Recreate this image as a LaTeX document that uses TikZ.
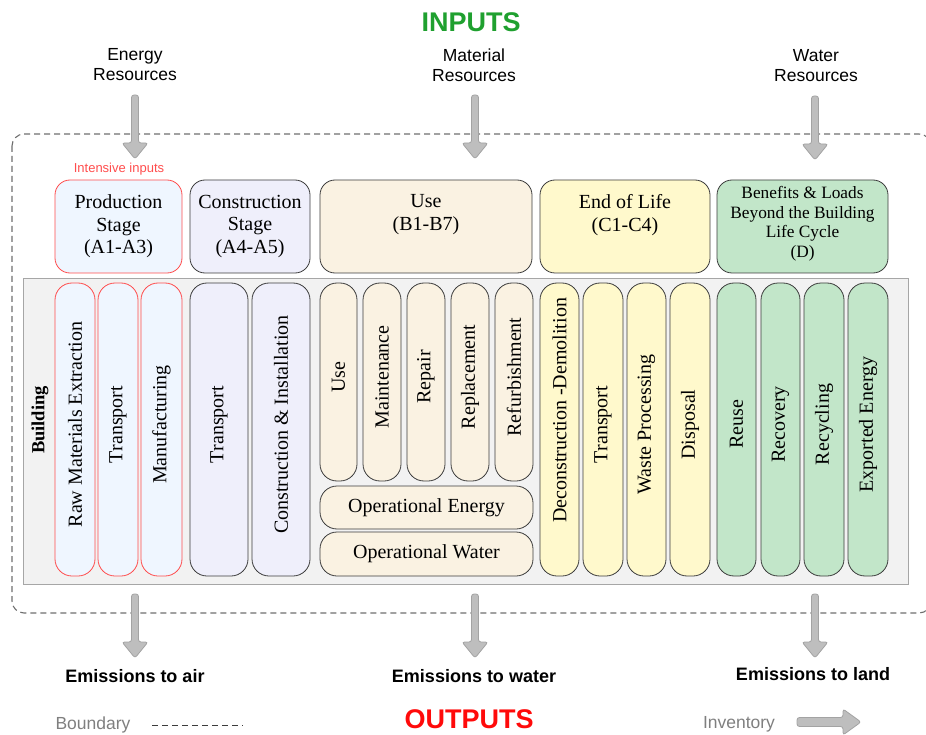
\documentclass[tikz,border=0pt]{standalone}
\usepackage{fontspec}
\setmainfont{Liberation Serif}
\setsansfont{Liberation Sans}

% palette
\definecolor{inputgreen}{HTML}{1FA02F}
\definecolor{outputred}{HTML}{FF0A0A}
\definecolor{prodfill}{HTML}{EFF6FF}
\definecolor{prodedge}{HTML}{FF4D4D}
\definecolor{consfill}{HTML}{EFEFFB}
\definecolor{usefill}{HTML}{FAF2E2}
\definecolor{eolfill}{HTML}{FFF9CC}
\definecolor{benfill}{HTML}{C2E6C9}
\definecolor{boxedge}{HTML}{3C3C3C}
\definecolor{panelfill}{HTML}{F2F2F2}
\definecolor{paneledge}{HTML}{A6A6A6}
\definecolor{flowfill}{HTML}{BEBEBE}
\definecolor{flowedge}{HTML}{A3A3A3}
\definecolor{legendgray}{HTML}{7F7F7F}
\definecolor{boundgray}{HTML}{6E6E6E}

% type sizes
\newcommand{\lcaSerifBig}{\fontsize{20}{22.5}\selectfont}
\newcommand{\lcaSerifMid}{\fontsize{17.3}{19.7}\selectfont}
\newcommand{\lcaSansMid}{\sffamily\fontsize{17.5}{20}\selectfont}
\newcommand{\lcaSansBold}{\sffamily\bfseries\fontsize{18}{20}\selectfont}
\newcommand{\lcaTitle}{\sffamily\bfseries\fontsize{27}{30}\selectfont}

\begin{document}
\begin{tikzpicture}[x=1pt, y=-1pt,
  stagebox/.style={draw=boxedge, line width=0.8pt, rounded corners=15pt, inner sep=0pt},
  stagetext/.style={font=\lcaSerifBig, align=center, inner sep=0pt, anchor=north},
  % tall modules: label sits slightly above the middle of the bar
  lift/.style={execute at begin node={\hspace*{#1}}},
  module/.style={draw=boxedge, line width=0.8pt, rounded corners=17pt, rotate=90,
                 inner sep=0pt, minimum width=293pt, font=\lcaSerifBig, lift=10pt},
  usemodule/.style={module, minimum width=198pt, lift=0pt},
  opbox/.style={draw=boxedge, fill=usefill, line width=0.8pt, rounded corners=17pt,
                inner sep=0pt, minimum width=213pt, font=\lcaSerifBig},
  prod/.style={fill=prodfill, draw=prodedge},
  cons/.style={fill=consfill},
  usest/.style={fill=usefill},
  eol/.style={fill=eolfill},
  ben/.style={fill=benfill},
  resource/.style={font=\lcaSansMid, align=center, inner sep=0pt},
  emission/.style={font=\lcaSansBold, inner sep=0pt, anchor=base},
  legendtext/.style={font=\lcaSansMid, text=legendgray, inner sep=0pt, anchor=base},
  flowdown/.pic={
    \path[fill=flowfill, draw=flowedge, line width=0.8pt, rounded corners=2.5pt]
      (-3.5,48) -- (-3.5,0) -- (3.5,0) -- (3.5,48) -- (13,48) -- (0,64) -- (-13,48) -- cycle;
  }
]
\useasboundingbox (0,0) rectangle (926,735);

% system boundary
\draw[boundgray, dash pattern=on 6pt off 4pt, line width=1.1pt, rounded corners=12pt]
  (12,134) rectangle (931,613);

% building panel
\node[draw=paneledge, fill=panelfill, line width=1pt, inner sep=0pt,
      minimum width=885pt, minimum height=305pt] (panel) at (465.5,431.5) {};
\node[rotate=90, font=\fontsize{18.5}{20}\selectfont\bfseries, inner sep=0pt] (bldg) at (40,420) {Building};

% titles and resources
\node[font=\lcaTitle, text=inputgreen, inner sep=0pt, anchor=base] (inputs) at (471,32) {INPUTS};
\node[resource] (energy) at (135,65) {Energy\\Resources};
\node[resource] (material) at (474,65) {Material\\Resources};
\node[resource] (water) at (816,66) {Water\\Resources};
\node[font=\sffamily\fontsize{13}{15}\selectfont, text=prodedge, inner sep=0pt, anchor=base]
  (intensive) at (119,173) {Intensive inputs};

% stage headers
\node[stagebox, prod, minimum width=127pt, minimum height=93pt] (hA13) at (118.5,226.5) {};
\node[stagebox, cons, minimum width=120pt, minimum height=93pt] (hA45) at (250,226.5) {};
\node[stagebox, usest, minimum width=212pt, minimum height=93pt] (hB) at (426,226.5) {};
\node[stagebox, eol, minimum width=170pt, minimum height=93pt] (hC) at (625,226.5) {};
\node[stagebox, ben, minimum width=171pt, minimum height=93pt] (hD) at (802.5,226.5) {};

\node[stagetext] (tA13) at ([yshift=-15pt]hA13.north) {Production\\Stage\\(A1-A3)};
\node[stagetext] (tA45) at ([yshift=-15pt]hA45.north) {Construction\\Stage\\(A4-A5)};
\node[stagetext] (tB) at ([yshift=-15pt]hB.north) {Use\\(B1-B7)};
\node[stagetext] (tC) at ([yshift=-15pt]hC.north) {End of Life\\(C1-C4)};
\node[stagetext, font=\lcaSerifMid] (tD) at ([yshift=-6.5pt]hD.north)
  {Benefits \& Loads\\Beyond the Building\\Life Cycle\\(D)};

% production stage modules
\node[module, prod, minimum height=40pt] (a1) at (75,429.5) {Raw Materials Extraction};
\node[module, prod, minimum height=40pt] (a2) at (118,429.5) {Transport};
\node[module, prod, minimum height=41pt] (a3) at (161.5,429.5) {Manufacturing};
% construction stage modules
\node[module, cons, minimum height=58pt] (a4) at (219,429.5) {Transport};
\node[module, cons, minimum height=58pt] (a5) at (281,429.5) {Construction \& Installation};
% use stage modules
\node[usemodule, usest, minimum height=37pt] (b1) at (338.5,382) {Use};
\node[usemodule, usest, minimum height=38pt] (b2) at (382,382) {Maintenance};
\node[usemodule, usest, minimum height=38pt] (b3) at (426,382) {Repair};
\node[usemodule, usest, minimum height=38pt] (b4) at (470,382) {Replacement};
\node[usemodule, usest, minimum height=38pt] (b5) at (514,382) {Refurbishment};
\node[opbox, minimum height=43pt] (b6) at (426.5,507.5) {Operational Energy};
\node[opbox, minimum height=44pt] (b7) at (426.5,554) {Operational Water};
% end of life modules
\node[module, eol, minimum height=39pt, lift=28pt] (c1) at (559.5,429.5) {Deconstruction -Demolition};
\node[module, eol, minimum height=40pt] (c2) at (603,429.5) {Transport};
\node[module, eol, minimum height=39pt] (c3) at (646.5,429.5) {Waste Processing};
\node[module, eol, minimum height=40pt] (c4) at (690,429.5) {Disposal};
% beyond the life cycle
\node[module, ben, minimum height=39pt] (d1) at (736.5,429.5) {Reuse};
\node[module, ben, minimum height=39pt] (d2) at (780.5,429.5) {Recovery};
\node[module, ben, minimum height=40pt] (d3) at (824,429.5) {Recycling};
\node[module, ben, minimum height=40pt] (d4) at (868,429.5) {Exported Energy};

% input and output flows
\coordinate (inEnergy) at (135,95);
\coordinate (inMaterial) at (475,95);
\coordinate (inWater) at (815,96);
\coordinate (outAir) at (135,594);
\coordinate (outWater) at (475,594);
\coordinate (outLand) at (815,594);
\foreach \p in {inEnergy,inMaterial,inWater,outAir,outWater,outLand}
  \pic at (\p) {flowdown};

\node[emission] (eAir) at (135,682) {Emissions to air};
\node[emission] (eWater) at (474,682) {Emissions to water};
\node[emission] (eLand) at (813,680) {Emissions to land};

\node[font=\lcaTitle, text=outputred, inner sep=0pt, anchor=base] (outputs) at (469,728) {OUTPUTS};

% legend
\node[legendtext] (lgBoundary) at (93,729) {Boundary};
\coordinate (lgDashA) at (152,725);
\coordinate (lgDashB) at (243,725);
\draw[boxedge, dash pattern=on 6pt off 4pt, line width=1pt] (lgDashA) -- (lgDashB);
\node[legendtext] (lgInventory) at (739,728) {Inventory};
\coordinate (lgArrow) at (797,722);
\path[fill=flowfill, draw=flowedge, line width=0.8pt, rounded corners=2.5pt]
  ([xshift=46pt,yshift=4.5pt]lgArrow) -- ([yshift=4.5pt]lgArrow) -- ([yshift=-4.5pt]lgArrow)
  -- ([xshift=46pt,yshift=-4.5pt]lgArrow) -- ([xshift=46pt,yshift=-13pt]lgArrow)
  -- ([xshift=64pt]lgArrow) -- ([xshift=46pt,yshift=13pt]lgArrow) -- cycle;
\end{tikzpicture}
\end{document}
